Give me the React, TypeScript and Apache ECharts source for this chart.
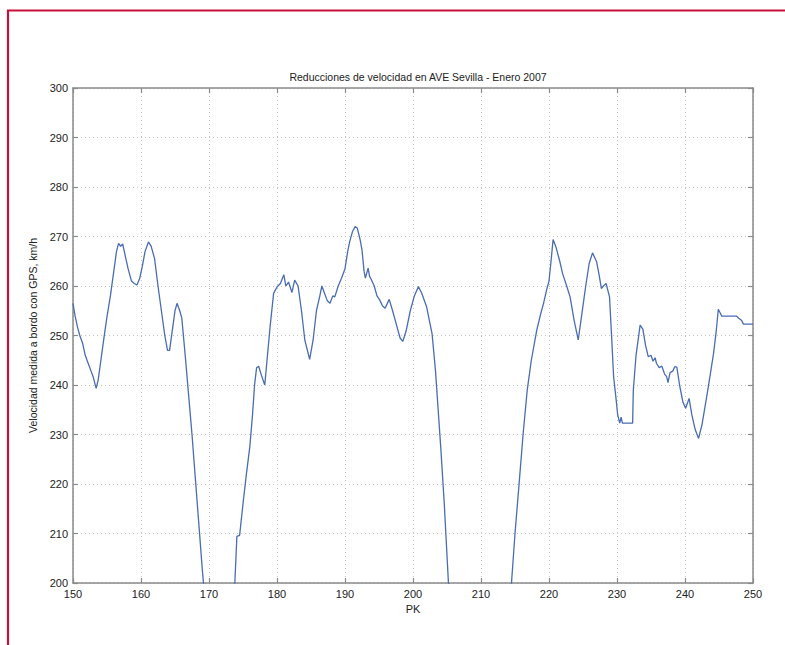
import React, { useEffect, useRef } from "react";
import * as echarts from "echarts";

const titleText = "Reducciones de velocidad en AVE Sevilla - Enero 2007";
const xAxisName = "PK";
const yAxisName = "Velocidad medida a bordo con GPS, km/h";

const pk: number[] = [
  150.0, 150.3, 150.7, 151.0, 151.4, 151.8, 152.2, 152.6, 153.0, 153.4,
  153.7, 154.1, 154.5, 155.0, 155.5, 156.0, 156.4, 156.7, 157.0, 157.3,
  157.7, 158.1, 158.6, 159.0, 159.4, 159.8, 160.2, 160.6, 161.1, 161.5,
  162.0, 162.5, 163.0, 163.5, 163.9, 164.2, 164.6, 165.0, 165.3, 165.7,
  166.0, 166.5, 167.0, 167.5, 168.0, 168.5, 169.0, 169.5, 170.0,
  173.5, 173.8, 174.1, 174.5, 175.0, 175.5, 176.0, 176.4, 176.7, 177.0,
  177.3, 177.7, 178.2, 178.6, 179.0, 179.5, 180.0, 180.5, 181.0, 181.3,
  181.7, 182.2, 182.6, 183.1, 183.6, 184.1, 184.8, 185.3, 185.8, 186.3,
  186.6, 187.0, 187.4, 187.8, 188.2, 188.5, 189.0, 189.5, 190.0, 190.4,
  190.7, 191.1, 191.5, 191.8, 192.2, 192.5, 192.8, 193.0, 193.4, 193.6,
  193.9, 194.3, 194.7, 195.1, 195.5, 195.9, 196.5, 197.0, 197.6, 198.1,
  198.5, 199.0, 199.6, 200.2, 200.8, 201.3, 202.0, 202.8, 203.3, 203.7,
  204.1, 204.6, 205.2, 205.6,
  214.2, 214.5, 215.0, 215.6, 216.2, 216.8, 217.4, 218.2, 218.8, 219.2,
  219.7, 220.0, 220.3, 220.6, 221.0, 221.6, 222.0, 222.6, 223.1, 223.7,
  224.3, 224.8, 225.4, 225.9, 226.4, 227.0, 227.4, 227.7, 228.0, 228.4,
  228.9, 229.2, 229.5, 229.8, 230.1, 230.4, 230.6, 230.8, 232.3, 232.4,
  232.8, 233.4, 233.8, 234.2, 234.6, 235.0, 235.3, 235.6, 235.8, 236.2,
  236.6, 237.0, 237.3, 237.5, 237.8, 238.2, 238.5, 238.8, 239.2, 239.7,
  240.1, 240.6, 241.0, 241.5, 242.0, 242.5, 243.2, 243.7, 244.2, 244.6,
  244.9, 245.2, 245.4, 247.6, 247.9, 248.3, 248.6, 250.0,
];

const speed: number[] = [
  256.5, 254.0, 251.5, 250.0, 248.5, 246.0, 244.5, 243.0, 241.5, 239.3,
  241.0, 245.0, 249.0, 253.8, 258.0, 263.0, 267.0, 268.6, 268.0, 268.5,
  266.0, 263.5, 261.0, 260.5, 260.2, 261.5, 264.0, 267.0, 268.9, 268.0,
  265.5, 260.0, 255.0, 250.0, 247.0, 247.0, 251.0, 255.0, 256.5, 255.0,
  253.5, 246.0, 238.0, 230.0, 221.0, 212.0, 203.0, 195.0, 188.0,
  192.0, 200.0, 209.4, 209.6, 216.0, 222.0, 227.5, 234.0, 240.0, 243.5,
  243.8, 242.0, 240.0, 246.0, 252.0, 258.5, 259.8, 260.5, 262.3, 260.0,
  260.8, 258.7, 261.2, 260.0, 255.0, 249.0, 245.2, 249.0, 255.0, 258.0,
  260.0, 258.5, 257.0, 256.5, 258.0, 257.8, 260.0, 261.6, 263.5, 267.0,
  269.0, 271.0, 272.0, 271.7, 269.5, 267.3, 263.0, 261.6, 263.6, 262.0,
  261.2, 260.0, 258.0, 257.2, 256.0, 255.5, 257.3, 255.0, 252.0, 249.5,
  248.8, 251.0, 255.0, 258.0, 259.9, 258.5, 255.8, 250.4, 243.0, 235.0,
  227.0, 216.0, 200.3, 193.0,
  193.0, 200.3, 210.0, 220.0, 230.2, 239.0, 245.0, 251.1, 254.5, 256.5,
  259.5, 261.0, 265.0, 269.4, 268.0, 264.9, 262.5, 260.0, 257.8, 253.0,
  249.1, 254.0, 260.0, 264.5, 266.7, 264.9, 262.0, 259.5, 260.0, 260.5,
  257.8, 250.0, 241.7, 238.0, 234.0, 232.3, 233.5, 232.3, 232.3, 239.0,
  246.0, 252.1, 251.3, 248.0, 245.7, 246.0, 244.8, 245.5, 244.4, 243.5,
  243.8, 242.2, 241.7, 240.5, 242.5, 242.8, 243.7, 243.6, 240.0, 236.5,
  235.3, 237.3, 234.0, 231.0, 229.2, 232.0, 237.7, 242.0, 246.4, 251.0,
  255.3, 254.5, 253.9, 253.9, 253.5, 253.1, 252.3, 252.3,
];

const xMin = 150;
const xMax = 250;
const yMin = 200;
const yMax = 300;
const step = 10;

export default function App() {
  const ref = useRef<HTMLDivElement>(null);

  useEffect(() => {
    if (!ref.current) return;
    const chart = echarts.init(ref.current, null, { renderer: "svg" });
    const font = "'Liberation Sans', Arial, Helvetica, sans-serif";
    const axisColor = "#8a8a8a";
    const labelStyle = { color: "#222", fontSize: 11, fontFamily: font };
    const splitLine = {
      show: true,
      lineStyle: { color: "#c4c4c4", type: [1, 3] as any, width: 1 },
    };
    const data = pk.map((x, i) => [x, speed[i]]);

    chart.setOption({
      animation: false,
      backgroundColor: "#ffffff",
      title: {
        text: titleText,
        left: 413,
        top: 66,
        textAlign: "center",
        textStyle: { fontSize: 10.5, fontWeight: "normal", color: "#222", fontFamily: font },
      },
      graphic: [
        {
          type: "rect",
          shape: { x: 8, y: 10.5, width: 900, height: 900 },
          style: { fill: "none", stroke: "#c8103c", lineWidth: 2.2 },
          silent: true,
        },
      ],
      grid: { left: 73, top: 88, width: 680, height: 495, containLabel: false },
      xAxis: [
        {
          type: "value",
          position: "bottom",
          min: xMin,
          max: xMax,
          interval: step,
          name: xAxisName,
          nameLocation: "middle",
          nameGap: 19,
          nameTextStyle: { color: "#222", fontSize: 11, fontFamily: font },
          axisLine: { show: true, lineStyle: { color: axisColor, width: 1.5 } },
          axisTick: { show: true, inside: true, length: 5, lineStyle: { color: axisColor, width: 1.2 } },
          axisLabel: { ...labelStyle, margin: 5 },
          splitLine,
        },
        {
          type: "value",
          position: "top",
          min: xMin,
          max: xMax,
          interval: step,
          axisLine: { show: true, lineStyle: { color: axisColor, width: 1.5 } },
          axisTick: { show: true, inside: true, length: 5, lineStyle: { color: axisColor, width: 1.2 } },
          axisLabel: { show: false },
          splitLine: { show: false },
        },
      ],
      yAxis: [
        {
          type: "value",
          position: "left",
          min: yMin,
          max: yMax,
          interval: step,
          name: yAxisName,
          nameLocation: "middle",
          nameRotate: 90,
          nameGap: 34,
          nameTextStyle: { color: "#222", fontSize: 10.5, fontFamily: font },
          axisLine: { show: true, lineStyle: { color: axisColor, width: 1.5 } },
          axisTick: { show: true, inside: true, length: 5, lineStyle: { color: axisColor, width: 1.2 } },
          axisLabel: { ...labelStyle, margin: 5 },
          splitLine,
        },
        {
          type: "value",
          position: "right",
          min: yMin,
          max: yMax,
          interval: step,
          axisLine: { show: true, lineStyle: { color: axisColor, width: 1.5 } },
          axisTick: { show: true, inside: true, length: 5, lineStyle: { color: axisColor, width: 1.2 } },
          axisLabel: { show: false },
          splitLine: { show: false },
        },
      ],
      series: [
        {
          type: "line",
          data,
          xAxisIndex: 0,
          yAxisIndex: 0,
          showSymbol: false,
          symbol: "none",
          clip: true,
          lineStyle: { color: "#4a6cb3", width: 1.3 },
        },
      ],
    });

    return () => chart.dispose();
  }, []);

  return (
    <div
      style={{
        position: "fixed",
        left: 0,
        top: 0,
        width: 785,
        height: 645,
        background: "#ffffff",
      }}
    >
      <div ref={ref} style={{ width: 785, height: 645 }} />
    </div>
  );
}
